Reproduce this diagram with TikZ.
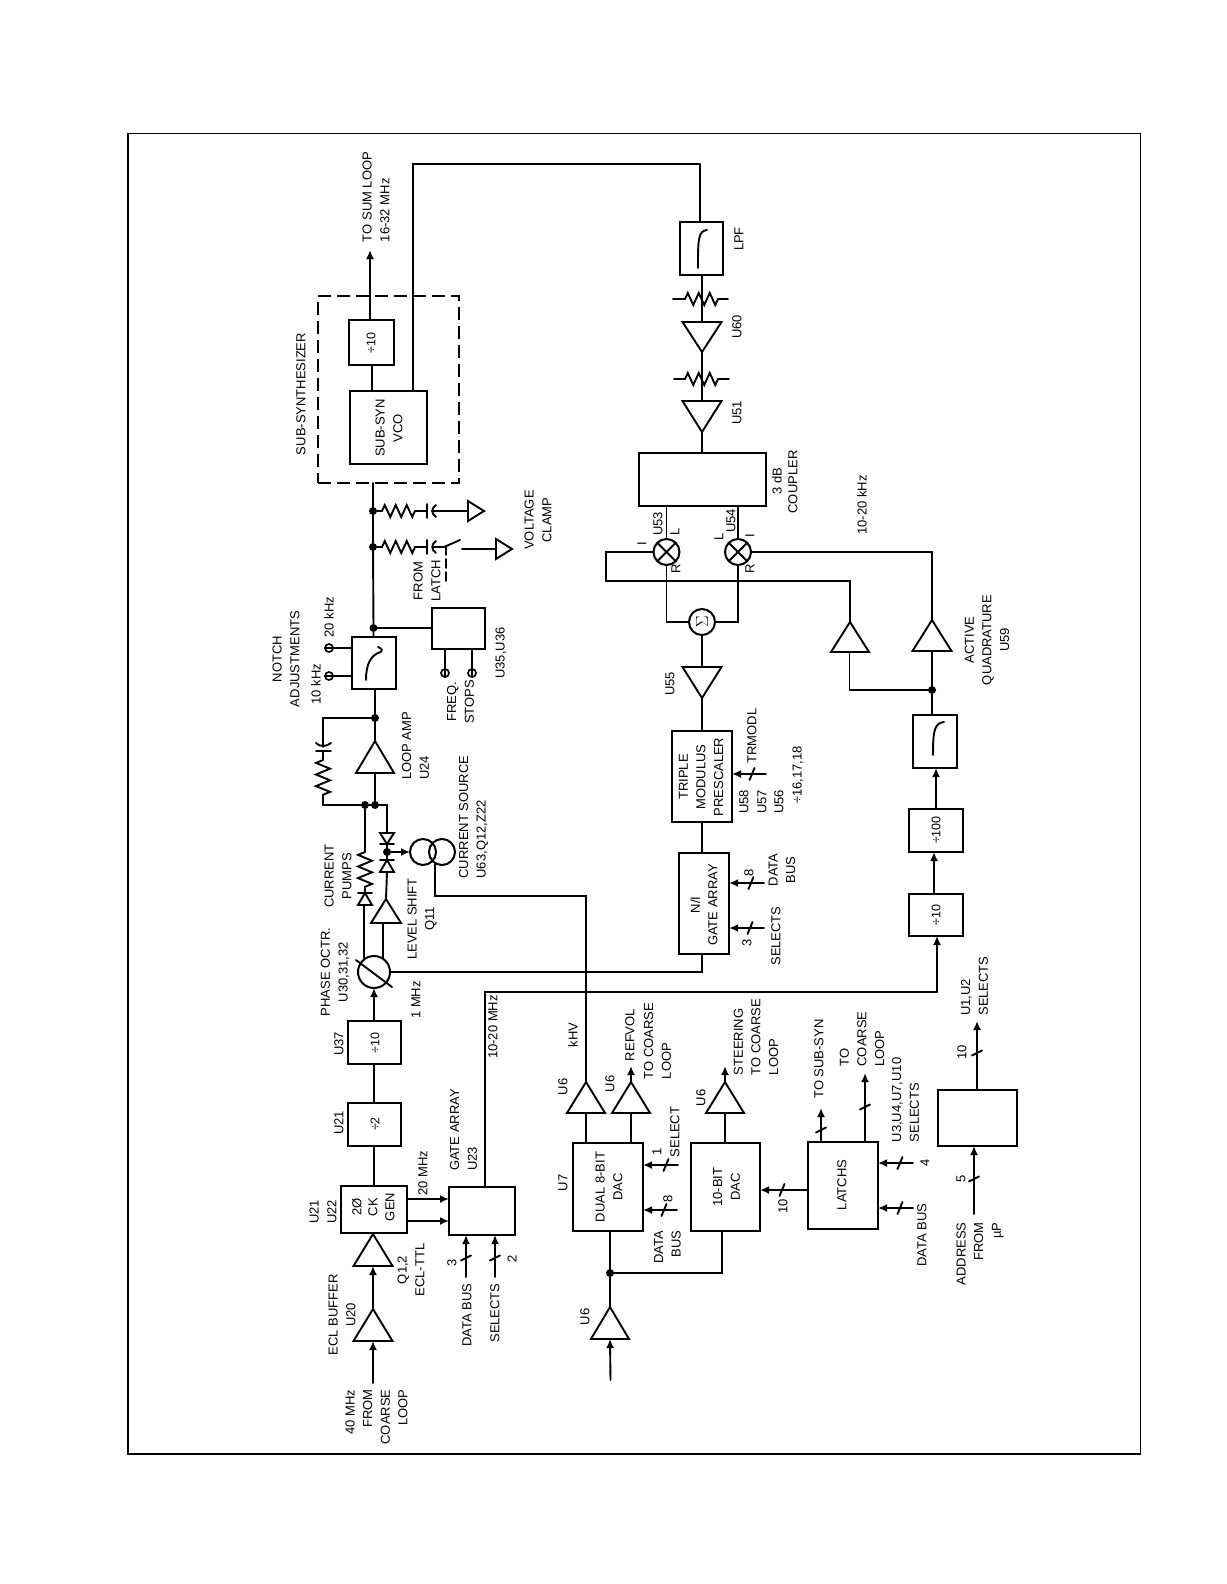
\documentclass[tikz,border=0pt]{standalone}
\usepackage{fontspec}
\setmainfont{Liberation Sans}
\usetikzlibrary{arrows.meta,calc}
\newcounter{lb}
\tikzset{
  wire/.style={line width=1.9pt,line cap=round,line join=miter},
  arr/.style={wire,-{Latex[length=9pt,width=8pt]}},
  blk/.style={draw,rectangle,line width=1.9pt,inner sep=0pt,outer sep=0pt},
  lbl/.style={rotate=90,inner sep=0pt,outer sep=0pt,align=center,font=\fontsize{13}{17.6}\selectfont},
  dot/.style={circle,fill=black,inner sep=0pt,minimum size=8pt},
  term/.style={circle,draw,line width=1.7pt,inner sep=0pt,minimum size=8pt,outer sep=0pt},
  ring/.style={circle,draw,line width=2pt,inner sep=0pt,outer sep=0pt},
  small/.style={font=\fontsize{12.5}{14}\selectfont}
}
\newcommand\lab[4][]{\stepcounter{lb}\node[lbl,#1] (lb\thelb) at (#2,#3) {#4};}
\newcommand\bx[5]{\pgfmathsetmacro\wdd{#4-#2}\pgfmathsetmacro\htt{#5-#3}%
  \node[blk,minimum width=\wdd pt,minimum height=\htt pt] (#1) at ({(#2+#4)/2},{(#3+#5)/2}) {};}
% triangle amp: name, centre x, apex y, base y, half width
\newcommand\tri[5]{\coordinate (#1a) at (#2,#3);\coordinate (#1b) at (#2,#4);
  \draw[wire,line join=miter] (#1a) -- ({#2-#5},#4) -- ({#2+#5},#4) -- cycle;}
% triangle pointing right: name, base x, apex x, centre y, half height
\newcommand\trih[5]{\coordinate (#1a) at (#3,#4);\coordinate (#1b) at (#2,#4);
  \draw[wire] (#1a) -- (#2,{#4-#5}) -- (#2,{#4+#5}) -- cycle;}
\newcommand\tkv[2]{\draw[wire] (#1,#2) +(-5,2.5) -- +(5,-2.5);}
\newcommand\tkh[2]{\draw[wire] (#1,#2) +(-2.5,6) -- +(2.5,-6);}
\def\zigH{-- ++(2.75,-6) -- ++(5.5,12) -- ++(5.5,-12) -- ++(5.5,12) -- ++(5.5,-12) -- ++(5.5,12) -- ++(2.75,-6)}
\def\zigV{-- ++(-7,2.9) -- ++(14,5.8) -- ++(-14,5.8) -- ++(14,5.8) -- ++(-14,5.8) -- ++(14,5.8) -- ++(-7,2.9)}
\newcommand\capH[2]{\draw[wire] (#1,{#2-7}) -- (#1,{#2+7});
  \draw[wire] ({#1+9},{#2-6}) .. controls ({#1+4},{#2-3}) and ({#1+4},{#2+3}) .. ({#1+9},{#2+6});}
\begin{document}
\begin{tikzpicture}[x=1pt,y=-1pt]
\useasboundingbox (0,0) rectangle (1226,1584);
\node[draw,line width=1.1pt,inner sep=0pt,outer sep=0pt,minimum width=1012.5pt,minimum height=1320.5pt] (frame) at (634.25,793.75) {};

% ---- sub-synthesizer
\node[draw,line width=2.1pt,dash pattern=on 13pt off 6pt,inner sep=0pt,minimum width=141pt,minimum height=187pt] (subsyn) at (388.5,389.5) {};
\bx{divA}{349}{320}{394}{365}
\bx{vco}{350}{391}{427}{464}
\lab[small]{371}{343}{÷10}
\lab{389}{428}{SUB-SYN\\VCO}
\lab{301}{394}{SUB-SYNTHESIZER}
\lab[align=left]{376}{197}{TO SUM LOOP\\16-32 MHz}
\coordinate (sumout) at (370,250);
\draw[arr] (divA.north -| sumout) -- (sumout);
\coordinate (a372) at (372,0);
\draw[wire] (divA.south -| a372) -- (vco.north -| a372);
\coordinate (vcoR) at (413,164);
\coordinate (lpfW) at (700,164);
\draw[wire] (vco.north -| vcoR) -- (vcoR) -- (lpfW);

% ---- loop node
\coordinate (clampA) at (373,483);
\node[dot] (j1) at (373,511) {};
\node[dot] (j2) at (373,547) {};
\node[dot] (j3) at (373.5,628) {};
\bx{notch}{352}{637}{396}{689}
\bx{stops}{432}{608}{485}{649}
\draw[wire] (clampA) -- (j1) -- (j2) -- (j3) -- (j3 |- notch.north);
\draw[wire] (j3) -- (j3 -| stops.west);
% R-C branch 1
\draw[wire] (j1) -- (382,511) \zigH -- (427,511);
\capH{427}{511}
\trih{gndA}{468}{484}{511}{10}
\draw[wire] (432,511) -- (gndAb);
% R-C branch 2
\draw[wire] (j2) -- (382,547) \zigH -- (427,547);
\capH{427}{547}
\trih{gndB}{496}{512}{549}{10}
\coordinate (swA) at (433,547);
\coordinate (swB) at (460,540);
\coordinate (swC) at (462,549);
\draw[wire] (swA) -- (444,547) -- (swB);
\draw[wire] (swC) -- (gndBb);
\draw[wire,dash pattern=on 9pt off 4pt] (446,546) -- (446,582);
\lab{427}{581}{FROM\\LATCH}
\lab{538}{520}{VOLTAGE\\CLAMP}

% notch terminals
\node[term] (n20) at (329,648) {};
\node[term] (n10) at (329,676) {};
\draw[wire] (notch.west |- n20) -- (n20.west);
\draw[wire] (notch.west |- n10) -- (n10.west);
\draw[wire] (366,680) .. controls (366,664) and (371,656) .. (378,653) .. controls (385,651) and (381,648) .. (378,647);
\lab{329}{617}{20 kHz}
\lab{316}{684}{10 kHz}
\lab[align=center]{286}{659}{NOTCH\\ADJUSTMENTS}
% freq stops
\node[term] (fs1) at (445,673) {};
\node[term] (fs2) at (472,673) {};
\draw[wire] (fs1 |- stops.south) -- (fs1.south);
\draw[wire] (fs2 |- stops.south) -- (fs2.south);
\lab{460.5}{702}{FREQ.\\STOPS}
\lab{501}{653}{U35,U36}

% ---- loop amp
\node[dot] (j4) at (375,718) {};
\node[dot] (j5) at (375,805) {};
\node[dot] (j6) at (365,805) {};
\draw[wire] (notch.south -| j4) -- (j4);
\tri{la}{375}{741}{773}{19}
\draw[wire] (j4) -- (laa);
\draw[wire] (lab) -- (j5);
\coordinate (fbT) at (323,718);
\coordinate (fbB) at (323,805);
\draw[wire] (j4) -- (fbT) -- (323,747);
\draw[wire] (316,751) -- (331,751);
\draw[wire] (316,743) .. controls (320,747) and (326,747) .. (331,743);
\draw[wire] (323,751) -- (323,760);
\draw[wire] (323,760) -- ++(-7,2.9) -- ++(14,5.8) -- ++(-14,5.8) -- ++(14,5.8) -- ++(-14,5.8) -- ++(14,5.8) -- ++(-7,2.9) -- (fbB) -- (j6) -- (j5);
\lab[align=left]{415.5}{746}{LOOP AMP\\U24}

% current pump path
\draw[wire] (j6) -- (365,852) \zigV -- (365,893);
\draw[wire] (358,893) -- (372,893);
\draw[wire] (365,893) -- (358,905) -- (372,905) -- cycle;
\coordinate (pmA) at (364,905);
\coordinate (pmB) at (383,923);
\lab{338}{876}{CURRENT\\PUMPS}

% diodes & current source
\coordinate (dT) at (387,805);
\node[dot] (j7) at (387,852) {};
\draw[wire] (j5) -- (dT) -- (387,833);
\draw[wire] (380,833) -- (394,833) -- (387,844) -- cycle;
\draw[wire] (380,844) -- (394,844);
\draw[wire] (387,844) -- (j7) -- (387,860);
\draw[wire] (380,860) -- (394,860);
\draw[wire] (387,860) -- (380,872) -- (394,872) -- cycle;
\tri{ls}{386}{899}{923}{15}
\draw[wire] (387,872) -- (lsa);
\lab{422}{919}{LEVEL SHIFT\\Q11}
\node[ring,minimum size=26pt] (cs1) at (423,852) {};
\node[ring,minimum size=26pt] (cs2) at (442,852) {};
\draw[arr] (j7) -- (cs1.west);
\coordinate (csA) at (435,863);
\coordinate (csB) at (435,896);
\coordinate (csC) at (586,896);
\lab[align=left]{473.5}{817}{CURRENT SOURCE\\U63,Q12,Z22}

% phase detector
\node[ring,minimum size=32pt] (pd) at (374,972) {};
\draw[wire] (356,960) -- (392,987);
\draw[wire] (pmA) -- (364,958);
\draw[wire] (pmB) -- (383,958);
\lab{335}{972}{PHASE OCTR.\\U30,31,32}
\lab{416}{1000}{1 MHz}

% ---- left chain
\bx{divB}{348}{1021}{401}{1064}
\lab[small]{375}{1043}{÷10}
\lab{339}{1044}{U37}
\bx{divC}{348}{1103}{401}{1146}
\lab[small]{375}{1124}{÷2}
\lab{339}{1123}{U21}
\bx{ck}{341}{1186}{407}{1233}
\lab{357}{1207}{2Ø}
\lab{373}{1207}{CK}
\lab{390}{1207}{GEN}
\lab{323}{1212}{U21\\U22}
\coordinate (cc) at (374,0);
\draw[arr] (divB.north -| cc) -- (pd.south -| cc);
\draw[wire] (divC.north -| cc) -- (divB.south -| cc);
\draw[wire] (ck.north -| cc) -- (divC.south -| cc);
\tri{ea}{373}{1234}{1266}{19.5}
\tri{eb}{373}{1309}{1341}{19.5}
\draw[arr] (eba) -- (eab);
\coordinate (inA) at (373,1383);
\draw[arr] (inA) -- (ebb);
\lab{342}{1315}{ECL BUFFER\\U20}
\lab{411}{1270}{Q1,2\\ECL-TTL}
\lab[align=right]{376.5}{1417}{40 MHz\\FROM\\COARSE\\LOOP}

% gate array U23
\bx{gaA}{449}{1187}{515}{1235}
\coordinate (yA) at (0,1199);
\coordinate (yB) at (0,1221);
\draw[arr] (ck.east |- yA) -- (gaA.west |- yA);
\draw[arr] (ck.east |- yB) -- (gaA.west |- yB);
\lab{423}{1173}{20 MHz}
\lab[align=left]{463.5}{1130}{GATE ARRAY\\U23}
\coordinate (dbA) at (466,1277);
\coordinate (dbB) at (495,1277);
\draw[arr] (dbA) -- (dbA |- gaA.south);
\draw[arr] (dbB) -- (dbB |- gaA.south);
\tkv{466}{1258}
\tkv{495}{1258}
\lab{452}{1263}{3}
\lab{512}{1259}{2}
\lab{467}{1315}{DATA BUS}
\lab{495}{1313}{SELECTS}
% 10-20 MHz wire
\coordinate (mA) at (485,992);
\coordinate (mB) at (937,992);
\draw[wire] (gaA.north -| mA) -- (mA) -- (mB);
\lab{493}{1027}{10-20 MHz}

% ---- DAC section
\bx{dac}{573}{1143}{643}{1231}
\bx{tenb}{691}{1143}{760}{1231}
\bx{latch}{808}{1142}{878}{1229}
\bx{addr}{938}{1090}{1017}{1146}
\lab{609}{1187}{DUAL 8-BIT\\DAC}
\lab{726.5}{1187}{10-BIT\\DAC}
\lab{842}{1185}{LATCHS}
\tri{khv}{586}{1082}{1113}{19}
\tri{rv}{631}{1082}{1113}{19}
\tri{st}{725}{1082}{1113}{19}
\tri{in}{610}{1307}{1339}{19}
\draw[wire] (khvb) -- (dac.north -| khvb);
\draw[wire] (rvb) -- (dac.north -| rvb);
\draw[wire] (stb) -- (tenb.north -| stb);
\coordinate (rvt) at (631,1066);
\coordinate (stt) at (725,1066);
\draw[arr] (rva) -- (rvt);
\draw[arr] (sta) -- (stt);
\node[dot] (j8) at (610,1273) {};
\draw[wire] (dac.south -| j8) -- (j8) -- (ina);
\coordinate (brk) at (722,1273);
\draw[wire] (j8) -- (brk) -- (tenb.south -| brk);
\coordinate (in6) at (610.5,1380);
\draw[arr] (in6) -- (inb);
\draw[wire] (csA) -- (csB) -- (csC) -- (khva);
\lab{563}{1087}{U6}
\lab{610}{1084}{U6}
\lab{701}{1098}{U6}
\lab{585}{1317}{U6}
\lab{563}{1183}{U7}
\lab{573}{1035}{kHV}
\lab{630}{1035}{REFVOL}
\lab[align=left]{657.5}{1041}{TO COARSE\\LOOP}
\lab[align=left]{756}{1037}{STEERING\\TO COARSE\\LOOP}
% dac inputs
\coordinate (sA) at (678,1165);
\coordinate (sB) at (677,1210);
\draw[arr] (sA) -- (sA -| dac.east);
\draw[arr] (sB) -- (sB -| dac.east);
\tkh{666}{1165}
\tkh{664}{1210}
\lab{657}{1152}{1}
\lab{668}{1199}{8}
\lab{675}{1132}{SELECT}
\lab[align=right]{667.5}{1247}{DATA\\BUS}
% latch
\coordinate (lA) at (0,1190);
\draw[arr] (latch.west |- lA) -- (tenb.east |- lA);
\tkh{782}{1190}
\lab{783}{1206}{10}
\coordinate (ssT) at (821,1108);
\coordinate (clT) at (865,1073);
\draw[arr] (latch.north -| ssT) -- (ssT);
\draw[arr] (latch.north -| clT) -- (clT);
\tkv{821}{1130}
\tkv{865}{1107}
\lab{819}{1059}{TO SUB-SYN}
\lab[align=left]{862}{1039}{TO\\COARSE\\LOOP}
\lab[align=left]{905.5}{1100}{U3,U4,U7,U10\\SELECTS}
\coordinate (lC) at (913,1163);
\coordinate (lD) at (913,1208);
\draw[arr] (lC) -- (lC -| latch.east);
\draw[arr] (lD) -- (lD -| latch.east);
\tkh{900}{1163}
\tkh{900}{1208}
\lab{925}{1163}{4}
\lab{922}{1235}{DATA BUS}
% address block
\coordinate (ad1) at (977,1021);
\coordinate (ad2) at (974,1214);
\draw[arr] (addr.north -| ad1) -- (ad1);
\draw[arr] (ad2) -- (ad2 |- addr.south);
\tkv{977}{1053}
\tkv{974}{1179}
\lab{962}{1052}{10}
\lab{961}{1179}{5}
\lab[align=right]{980}{1254}{ADDRESS\\FROM\\µP}
\lab[align=left]{974.5}{986}{U1,U2\\SELECTS}

% ---- right column
\bx{lpf}{680}{222}{723}{275}
\draw[wire] (lpfW) -- (lpf.north -| lpfW);
\draw[wire] (698,268) .. controls (698,240) and (698,231) .. (707,230);
\lab{739}{239}{LPF}
\coordinate (ax) at (702,0);
\tri{u60}{702}{352}{322}{19.5}
\tri{u51}{702}{432}{401}{19.5}
\draw[wire] (lpf.south -| ax) -- (u60b);
\draw[wire] (u60a) -- (u51b);
\draw[wire] (673,299) -- (685,299) \zigH -- (728,299);
\draw[wire] (674,379) -- (685,379) \zigH -- (729,379);
\lab{737}{327}{U60}
\lab{737}{413}{U51}
\bx{coup}{639}{453}{766}{506}
\draw[wire] (u51a) -- (coup.north -| u51a);
\lab{777}{481}{3 dB}
\lab{793}{482}{COUPLER}
\lab{862}{505}{10-20 kHz}
% mixers
\node[ring,minimum size=26pt] (mx1) at (666.5,552) {};
\node[ring,minimum size=26pt] (mx2) at (738,552) {};
\draw[wire] (mx1.north east) -- (mx1.south west);
\draw[wire] (mx1.north west) -- (mx1.south east);
\draw[wire] (mx2.north east) -- (mx2.south west);
\draw[wire] (mx2.north west) -- (mx2.south east);
\draw[wire] (coup.south -| mx1) -- (mx1.north);
\draw[wire] (coup.south -| mx2) -- (mx2.north);
\lab{658}{524}{U53}
\lab{675}{532}{L}
\lab{642}{544}{I}
\lab{676}{569}{R}
\lab{731}{521}{U54}
\lab{719}{537}{L}
\lab{750}{536}{I}
\lab{750}{569}{R}
\node[ring,minimum size=26pt] (sum) at (702,622) {};
\lab[font=\fontsize{19}{19}\selectfont]{702}{622}{$\Sigma$}
\draw[wire] (mx1.south) -- (mx1 |- sum) -- (sum.west);
\draw[wire] (mx2.south) -- (mx2 |- sum) -- (sum.east);
\tri{u55}{702}{698}{667}{19.5}
\draw[wire] (sum.south) -- (u55b);
\lab{670}{684}{U55}
% quadrature
\tri{qa}{850}{622}{652}{19}
\tri{qb}{932}{620}{651}{19.5}
\coordinate (q1) at (606,552);
\coordinate (q2) at (606,581);
\coordinate (q3) at (850,581);
\draw[wire] (mx1.west) -- (q1) -- (q2) -- (q3) -- (qaa);
\coordinate (q4) at (932,552);
\draw[wire] (mx2.east) -- (q4) -- (qba);
\node[dot] (j9) at (932,690) {};
\coordinate (q5) at (849.5,690);
\draw[wire] (qbb) -- (j9) -- (q5) -- (q5 |- qab);
\lab{987}{640}{ACTIVE\\QUADRATURE\\U59}
% prescaler chain
\bx{pres}{672}{731}{732}{822}
\bx{gaB}{679}{853}{729}{954}
\draw[wire] (u55a) -- (pres.north -| u55a);
\draw[wire] (pres.south -| ax) -- (gaB.north -| ax);
\lab{701}{777}{TRIPLE\\MODULUS\\PRESCALER}
\lab{704}{905}{N/I\\GATE ARRAY}
\coordinate (tm) at (766,774);
\draw[arr] (tm) -- (tm -| pres.east);
\tkh{752}{774}
\lab{752}{736}{TRMODL}
\lab{744}{802}{U58}
\lab{762}{802}{U57}
\lab{779}{802}{U56}
\lab{798}{775}{÷16,17,18}
\coordinate (gb1) at (764,883);
\coordinate (gb2) at (764,928);
\draw[arr] (gb1) -- (gb1 -| gaB.east);
\draw[arr] (gb2) -- (gb2 -| gaB.east);
\tkh{751}{883}
\tkh{750}{928}
\lab{749}{873}{8}
\lab{747}{943}{3}
\lab{782}{870}{DATA\\BUS}
\lab{776}{936}{SELECTS}
\coordinate (pdW) at (702,972);
\draw[wire] (pd.east) -- (pdW) -- (pdW |- gaB.south);
% right chain
\bx{divD}{909}{894}{963}{936}
\bx{divE}{909}{809}{963}{852}
\bx{flt}{913}{715}{957}{768}
\lab[small]{936}{915}{÷10}
\lab[small]{936}{830}{÷100}
\draw[arr] (mB) -- (mB |- divD.south);
\coordinate (rc1) at (934,0);
\coordinate (rc2) at (936,0);
\draw[arr] (divD.north -| rc1) -- (divE.south -| rc1);
\draw[arr] (divE.north -| rc2) -- (flt.south -| rc2);
\draw[wire] (flt.north -| j9) -- (j9);
\draw[wire] (933,755) .. controls (933,732) and (934,723) .. (944,722);
\end{tikzpicture}
\end{document}
